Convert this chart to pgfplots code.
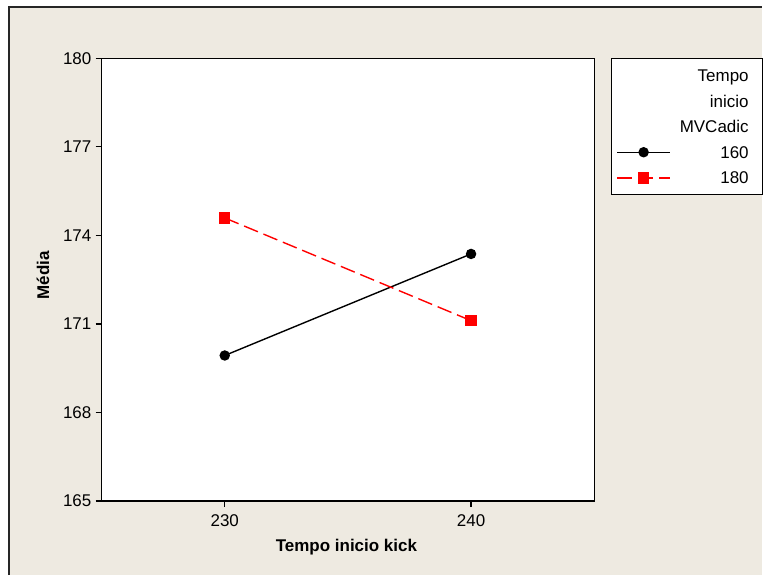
\documentclass[border=0pt]{standalone}
\usepackage{fontspec}
\setmainfont{Liberation Sans}
\usepackage{pgfplots}
\pgfplotsset{compat=1.18}
\definecolor{bg}{RGB}{238,234,225}
\newcommand{\fs}{\fontsize{17}{20}\selectfont}
\begin{document}
\begin{tikzpicture}[x=1pt,y=1pt]
\fill[white] (0,0) rectangle (763,576);
\fill[bg] (9,0) rectangle (763,569);
\draw[line width=2pt, black!85] (9,0) -- (9,569) -- (763,569);
\useasboundingbox (0,0) rectangle (763,576);
\begin{axis}[
  at={(101.7pt,74.3pt)}, anchor=south west,
  scale only axis, width=493.3pt, height=443.4pt,
  axis background/.style={fill=white},
  xmin=225, xmax=245, ymin=165, ymax=180,
  xtick={230,240}, ytick={165,168,...,180},
  xtick pos=left, ytick pos=left,
  tick align=outside, major tick length=6pt,
  axis line style={line width=1.2pt, black},
  tick style={line width=1.2pt, black},
  /pgf/number format/assume math mode=true,
  tick label style={font=\fs},
  xticklabel style={inner ysep=7.8pt},
  yticklabel style={inner xsep=4pt},
  xlabel={\bfseries Tempo inicio kick},
  ylabel={\bfseries Média},
  label style={font=\fs},
  xlabel style={at={(axis description cs:0.497,-0.1140)}, anchor=base},
  ylabel style={at={(axis description cs:-0.1062,0.5101)}, anchor=base},
  legend cell align=right,
  legend style={at={(rel axis cs:1.0344,1)}, anchor=north west,
    draw=black, line width=1.2pt, fill=white,
    inner xsep=4.7pt, inner ysep=3.6pt, column sep=9pt, row sep=0pt,
    nodes={inner sep=0pt, minimum height=25.7pt, text height=12.2pt, text depth=0pt},
    font=\fs},
  legend image code/.code={\draw[mark repeat=2,mark phase=2,#1] plot coordinates {(0pt,0pt) (26.5pt,0pt) (53pt,0pt)};},
]
\addlegendimage{empty legend}\addlegendentry{Tempo\kern9pt}
\addlegendimage{empty legend}\addlegendentry{inicio\kern9pt}
\addlegendimage{empty legend}\addlegendentry{MVCadic\kern9pt}
\addplot[black, line width=1.4pt, mark=*, mark size=4.5pt] coordinates {(230,169.93) (240,173.37)};
\addlegendentry{160\kern9pt}
\addplot[red, line width=1.4pt, dash pattern=on 15pt off 6pt, mark=square*, mark size=5pt, mark options={solid}] coordinates {(230,174.59) (240,171.11)};
\addlegendentry{180\kern9pt}
\end{axis}
\end{tikzpicture}
\end{document}
